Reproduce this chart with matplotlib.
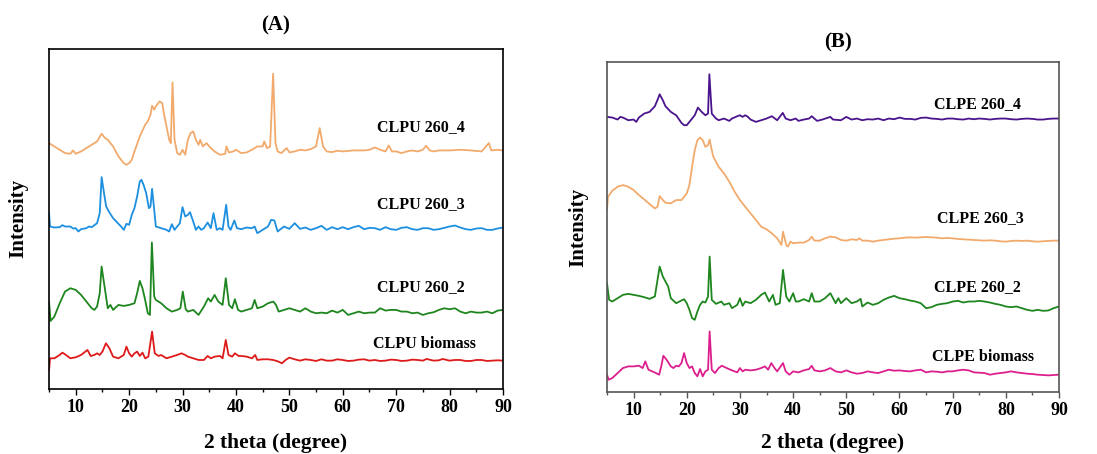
import matplotlib
matplotlib.use("Agg")
import matplotlib.pyplot as plt
from matplotlib.ticker import MultipleLocator

# ---- (A) CLPU series: 2theta (deg) and intensity (a.u., stacked) ----
clpu4_x = [5, 7, 8, 9, 9.5, 10, 11, 12, 13, 13.5, 14, 14.85, 15.5, 16, 17, 18, 19, 19.5, 20, 20.5,
           21, 22, 23, 23.5, 24, 24.3, 24.7, 25, 25.7, 26.2, 26.5, 27, 27.5, 27.8, 28.13, 28.5, 29,
           29.5, 30, 30.5, 31, 31.5, 32, 32.5, 33, 33.3, 33.8, 34.5, 35, 36, 37, 38, 38.2, 38.7, 39.5,
           40, 41, 42, 43, 44, 45, 45.3, 45.8, 46.4, 46.96, 47.4, 47.8, 48.5, 49.5, 50, 51, 52, 53,
           54, 55, 55.68, 56.3, 57, 58, 59, 60, 62, 64, 65, 66, 67, 68, 68.6, 69.2, 70, 71, 72, 73,
           74, 75, 75.6, 76.3, 77, 78, 80, 82, 84, 86, 87.36, 87.8, 89, 90]
clpu4_y = [737, 717, 707, 705, 715, 705, 712, 722, 732, 737, 742, 765, 752, 747, 727, 697, 677, 672,
           677, 687, 712, 757, 792, 802, 822, 849, 837, 847, 862, 857, 827, 787, 747, 737, 919, 747,
           707, 702, 717, 702, 747, 767, 772, 747, 732, 747, 727, 737, 727, 712, 702, 705, 727, 709,
           712, 717, 707, 709, 717, 727, 727, 742, 722, 727, 945, 737, 712, 707, 722, 709, 712, 717,
           715, 719, 727, 782, 727, 712, 710, 714, 712, 715, 715, 717, 724, 717, 712, 730, 712, 712,
           707, 712, 715, 712, 717, 729, 715, 712, 715, 715, 717, 715, 712, 737, 715, 717, 715]

clpu3_x = [5, 5.2, 6, 7, 7.5, 8, 9, 9.5, 10, 10.5, 11, 12, 12.5, 13, 13.5, 14, 14.5, 14.85, 15.3, 15.7,
           16.2, 17, 18, 18.5, 19, 19.5, 20, 20.5, 21, 21.5, 22, 22.3, 22.7, 23.2, 23.7, 24, 24.3,
           24.7, 25, 26, 27, 27.5, 28, 28.5, 29, 29.5, 30, 30.5, 31, 31.4, 32, 32.5, 33, 33.5, 34,
           34.7, 35.3, 35.8, 36.4, 37, 37.5, 38.17, 38.6, 39, 39.7, 40.2, 41, 42, 43, 43.5, 44, 45,
           46, 46.6, 47.2, 47.8, 48.2, 49, 50, 51, 52, 53, 54, 55, 56, 57, 58, 59, 60, 61, 62, 63,
           64, 65, 66, 67, 68, 69, 70, 71, 72, 73, 74, 75, 76, 77, 78, 79, 80, 81, 82, 83, 84, 85,
           86, 87, 88, 89, 90]
clpu3_y = [527, 487, 484, 485, 491, 487, 487, 481, 482, 472, 479, 482, 487, 485, 491, 497, 527, 635,
           587, 547, 532, 512, 495, 487, 477, 495, 492, 522, 542, 577, 622, 627, 612, 587, 542, 547,
           600, 537, 487, 482, 477, 472, 494, 477, 487, 497, 545, 517, 522, 530, 502, 477, 487, 477,
           482, 499, 482, 527, 477, 482, 477, 552, 487, 477, 505, 482, 479, 484, 482, 487, 467, 477,
           487, 507, 505, 472, 477, 487, 480, 497, 480, 484, 477, 482, 489, 477, 485, 479, 485, 479,
           485, 489, 479, 483, 482, 477, 485, 479, 477, 483, 485, 479, 477, 482, 482, 477, 479, 483,
           487, 490, 484, 479, 477, 481, 482, 477, 477, 481, 484]

clpu2_x = [5, 5.3, 6, 7, 8, 9, 10, 11, 12, 13, 13.5, 14, 14.5, 14.85, 15.4, 16, 16.5, 17, 18, 19, 20,
           21, 21.5, 22, 22.5, 23, 23.5, 23.9, 24.26, 24.7, 25, 25.5, 26, 27, 28, 29, 29.6, 30.05,
           30.6, 31, 32, 33, 34, 34.8, 35.3, 36, 36.7, 37.5, 38.1, 38.7, 39.3, 39.8, 40.4, 41, 42,
           43, 43.5, 44, 45, 46, 47, 47.5, 48, 49, 50, 51, 52, 53, 54, 55, 56, 57, 58, 59, 60, 61,
           62, 63, 64, 65, 66, 67, 68, 69, 70, 71, 72, 73, 74, 75, 76, 77, 78, 79, 80, 81, 82, 83,
           84, 85, 86, 87, 88, 89, 90]
clpu2_y = [262, 204, 217, 257, 292, 302, 297, 282, 262, 242, 237, 247, 287, 367, 307, 242, 252, 237,
           252, 249, 252, 257, 287, 324, 302, 267, 227, 222, 439, 277, 267, 262, 257, 242, 232, 237,
           242, 292, 239, 232, 237, 222, 247, 272, 262, 282, 262, 252, 332, 252, 242, 269, 237, 232,
           237, 242, 267, 242, 247, 257, 262, 252, 232, 237, 242, 237, 232, 242, 232, 227, 229, 227,
           235, 229, 237, 222, 227, 232, 227, 229, 229, 242, 235, 237, 237, 232, 232, 227, 229, 222,
           227, 230, 237, 242, 239, 242, 232, 227, 232, 229, 229, 232, 227, 235, 237]

clpu1_x = [5, 5.2, 6, 7, 7.5, 8, 9, 10, 11, 12.2, 12.8, 13.5, 14, 14.5, 15, 15.66, 16.3, 17, 18, 19,
           19.5, 20, 20.5, 21, 21.5, 22, 22.5, 23, 23.6, 24.3, 24.8, 25.5, 26, 27, 28, 29, 29.8,
           30.5, 31, 32, 33, 34, 34.7, 35.3, 36, 37, 37.5, 38.1, 38.6, 39.3, 39.8, 40.5, 41, 42, 43,
           43.6, 44, 45, 46, 47, 48, 48.6, 49.3, 50, 51, 52, 53, 54, 55, 56, 57, 58, 59, 60, 61, 62,
           63, 64, 65, 66, 67, 68, 69, 70, 71, 72, 73, 74, 75, 75.7, 77, 78, 78.7, 80, 81, 82, 83,
           84, 85, 86, 87, 88, 89, 90]
clpu1_y = [57, 92, 92, 102, 109, 104, 92, 95, 102, 117, 99, 102, 107, 102, 112, 137, 122, 97, 92, 102,
           127, 107, 97, 107, 112, 99, 109, 92, 97, 172, 107, 99, 102, 92, 97, 102, 107, 102, 97, 92,
           87, 87, 99, 92, 97, 99, 92, 147, 102, 97, 107, 99, 99, 97, 92, 102, 87, 89, 89, 87, 82,
           77, 87, 94, 89, 85, 89, 87, 84, 89, 85, 85, 89, 87, 84, 85, 88, 89, 85, 87, 84, 85, 88,
           87, 84, 85, 88, 87, 85, 90, 85, 86, 90, 85, 87, 87, 84, 84, 87, 87, 84, 85, 86, 85]

# ---- (B) CLPE series ----
clpe4_x = [5, 6, 7, 7.5, 8, 9, 10, 10.5, 11, 12, 13, 14, 14.6, 14.9, 15.5, 16, 17, 18, 19, 19.5, 20,
           21, 21.5, 22.1, 22.8, 23.5, 24, 24.25, 24.7, 25.5, 26, 27, 28, 28.5, 29.5, 30, 30.5, 31,
           31.5, 32, 33, 34, 35, 36, 37, 38.05, 38.6, 39.5, 40.5, 41, 42, 43, 43.5, 44.5, 45.5, 47,
           47.5, 49, 50, 51, 52, 53, 54, 55, 56, 57, 58, 59, 60, 61, 62, 63, 64, 65, 66, 67, 68, 69,
           70, 71, 72, 73, 74, 75, 76, 77, 78, 79, 80, 81, 82, 83, 84, 85, 86, 87, 88, 89, 90]
clpe4_y = [827, 825, 819, 827, 825, 817, 819, 812, 825, 837, 842, 859, 882, 895, 877, 859, 842, 832,
           809, 802, 802, 822, 832, 855, 842, 832, 837, 955, 837, 822, 817, 822, 815, 822, 829, 832,
           827, 832, 827, 819, 812, 817, 822, 829, 817, 839, 822, 817, 822, 815, 819, 822, 829, 815,
           819, 827, 819, 817, 827, 819, 822, 817, 820, 819, 822, 817, 822, 820, 825, 821, 821, 819,
           824, 825, 822, 821, 819, 822, 822, 820, 819, 822, 820, 822, 821, 819, 821, 822, 822, 820,
           819, 821, 822, 821, 819, 819, 821, 822, 822]

clpe3_x = [5, 5.2, 6, 7, 8, 9, 10, 11, 12, 13, 14, 14.5, 14.9, 15.5, 16, 17, 18, 19, 20, 20.5, 21,
           21.5, 22, 22.5, 23, 23.5, 24, 24.3, 24.7, 25, 26, 27, 28, 29, 30, 31, 32, 33, 34, 35, 36,
           37, 37.8, 38.1, 38.7, 39, 39.5, 40, 41, 42, 43, 43.5, 44, 45, 46, 47, 48, 49, 50, 51, 52,
           52.5, 53, 54, 55, 56, 57, 58, 59, 60, 61, 62, 63, 64, 65, 66, 67, 68, 69, 70, 71, 72, 73,
           74, 75, 76, 77, 78, 79, 80, 81, 82, 83, 84, 85, 86, 87, 88, 89, 90]
clpe3_y = [549, 587, 605, 617, 622, 617, 607, 592, 579, 565, 552, 557, 589, 577, 569, 567, 577, 577,
           597, 622, 677, 727, 757, 765, 757, 737, 742, 759, 727, 707, 677, 657, 632, 602, 577, 557,
           537, 517, 497, 489, 477, 462, 442, 482, 442, 437, 452, 447, 449, 449, 457, 467, 455, 455,
           462, 467, 465, 457, 455, 459, 457, 462, 455, 455, 452, 455, 457, 459, 461, 462, 464, 465,
           464, 465, 466, 465, 464, 462, 463, 462, 460, 459, 458, 457, 456, 455, 456, 455, 453, 452,
           454, 455, 454, 455, 453, 452, 453, 454, 455, 455]

clpe2_x = [5, 5.4, 6, 7, 8, 9, 10, 11, 12, 13, 14, 14.5, 14.9, 15.5, 16, 16.5, 17, 18, 19, 19.5, 20,
           20.5, 21, 21.5, 22, 22.5, 23, 23.5, 24, 24.3, 24.7, 25.5, 26.5, 27, 28, 28.5, 29.5, 30,
           30.5, 31, 32, 33, 34, 34.7, 35.5, 36.2, 36.7, 37.5, 38.1, 38.7, 39.3, 40, 40.5, 41, 42,
           43, 43.5, 44, 45, 46, 47, 47.5, 48, 48.5, 49, 50, 51, 52, 52.7, 53, 54, 55, 56, 57, 58,
           59, 60, 61, 62, 63, 64, 65, 66, 67, 68, 69, 70, 71, 72, 73, 74, 75, 76, 77, 78, 79, 80,
           81, 82, 83, 84, 85, 86, 87, 88, 89, 90]
clpe2_y = [327, 277, 272, 282, 292, 295, 292, 289, 285, 280, 287, 337, 377, 347, 332, 317, 282, 267,
           275, 279, 267, 247, 222, 217, 242, 262, 272, 269, 287, 407, 277, 265, 272, 262, 267, 252,
           262, 282, 259, 272, 267, 277, 292, 299, 272, 292, 262, 267, 367, 287, 272, 297, 272, 272,
           279, 272, 297, 272, 272, 282, 297, 282, 267, 282, 267, 282, 267, 272, 280, 257, 269, 262,
           267, 277, 284, 289, 282, 279, 275, 272, 267, 252, 255, 262, 265, 267, 272, 274, 269, 272,
           272, 274, 272, 269, 265, 262, 257, 255, 257, 252, 247, 244, 247, 244, 245, 252, 257]

clpe1_x = [5, 5.3, 6, 7, 8, 9, 10, 11, 11.7, 12.2, 12.8, 13.5, 14.2, 14.8, 15.2, 15.6, 16.2, 17, 17.5,
           18, 18.5, 19, 19.5, 20, 20.5, 21, 21.5, 22, 22.5, 23, 23.5, 24, 24.3, 24.7, 25.3, 26, 26.6,
           27.5, 28.5, 29.5, 30, 30.5, 31, 32, 33, 34, 34.7, 35.3, 35.9, 36.5, 37, 38.1, 38.6, 39.3,
           40, 41, 42, 43, 43.5, 44, 45, 46, 47, 48, 49, 50, 51, 52, 53, 54, 55, 56, 57, 58, 59, 60,
           61, 62, 63, 64, 65, 66, 67, 68, 69, 70, 71, 72, 73, 74, 75, 76, 77, 78, 79, 80, 81, 82,
           83, 84, 85, 86, 87, 88, 89, 90]
clpe1_y = [52, 37, 42, 57, 72, 77, 77, 79, 72, 92, 67, 62, 57, 52, 77, 109, 97, 77, 72, 79, 77, 87,
           117, 87, 72, 77, 57, 47, 69, 47, 62, 67, 182, 67, 57, 72, 79, 72, 65, 59, 72, 62, 67, 65,
           67, 72, 77, 67, 87, 72, 62, 87, 62, 52, 62, 59, 65, 69, 79, 65, 62, 65, 72, 62, 59, 65,
           59, 55, 57, 62, 59, 57, 62, 67, 64, 65, 63, 62, 65, 67, 59, 62, 61, 59, 62, 62, 65, 67,
           65, 59, 58, 57, 52, 55, 57, 59, 62, 59, 57, 55, 54, 52, 51, 50, 51, 52]

clpu_series = [
    (clpu4_x, clpu4_y, "#F2AA6C", "CLPU 260_4", 421, 127),
    (clpu3_x, clpu3_y, "#1C8FE0", "CLPU 260_3", 421, 204),
    (clpu2_x, clpu2_y, "#1E861E", "CLPU 260_2", 421, 287),
    (clpu1_x, clpu1_y, "#DE1A1A", "CLPU biomass", 424, 344),
]
clpe_series = [
    (clpe4_x, clpe4_y, "#4A148C", "CLPE 260_4", 977, 104),
    (clpe3_x, clpe3_y, "#F2AA6C", "CLPE 260_3", 980, 218),
    (clpe2_x, clpe2_y, "#1E861E", "CLPE 260_2", 977, 287),
    (clpe1_x, clpe1_y, "#DD1F8E", "CLPE biomass", 983, 357),
]

SERIF = ["Liberation Serif", "DejaVu Serif"]
W, H = 1097, 454


def style_axis(ax, ymax, edge):
    ax.set_xlim(5, 90)
    ax.set_ylim(0, ymax)
    ax.set_yticks([])
    ax.xaxis.set_major_locator(MultipleLocator(10))
    ax.xaxis.set_minor_locator(MultipleLocator(5))
    ax.set_xticks([10, 20, 30, 40, 50, 60, 70, 80, 90])
    ax.tick_params(axis="x", which="major", direction="out", length=4, width=1, pad=3,
                   colors=edge, labelcolor="black")
    ax.tick_params(axis="x", which="minor", direction="out", length=2.5, width=1, colors=edge)
    for lbl in ax.get_xticklabels():
        lbl.set_fontfamily(SERIF)
        lbl.set_fontweight("bold")
        lbl.set_fontsize(13)
    for sp in ax.spines.values():
        sp.set_color(edge)
        sp.set_linewidth(1.2)


def draw_panel(fig, rect, series, ymax, edge):
    ax = fig.add_axes(rect)
    for x, y, color, name, tx, ty in series:
        ax.plot(x, y, color=color, lw=1.3)
        fig.text(tx / W, 1 - ty / H, name, ha="center", va="center", family=SERIF,
                 fontweight="bold", fontsize=11.5)
    style_axis(ax, ymax, edge)
    return ax


fig = plt.figure(figsize=(W / 100, H / 100), dpi=100)

draw_panel(fig, [49 / W, 1 - 389 / H, 454 / W, 340 / H], clpu_series, 1019, "black")
draw_panel(fig, [607 / W, 1 - 392 / H, 452 / W, 330 / H], clpe_series, 992, "#555555")

text_kw = dict(ha="center", va="center", family=SERIF, fontweight="bold")
fig.text(276 / W, 1 - 25 / H, "(A)", fontsize=15, **text_kw)
fig.text(838 / W, 1 - 42 / H, "(B)", fontsize=15, **text_kw)
fig.text(276 / W, 1 - 443 / H, "2 theta (degree)", fontsize=15.5, **text_kw)
fig.text(833 / W, 1 - 443 / H, "2 theta (degree)", fontsize=15.5, **text_kw)
fig.text(18 / W, 1 - 218 / H, "Intensity", rotation=90, fontsize=15, **text_kw)
fig.text(578 / W, 1 - 227 / H, "Intensity", rotation=90, fontsize=15, **text_kw)

fig.savefig("out.png", dpi=100)
